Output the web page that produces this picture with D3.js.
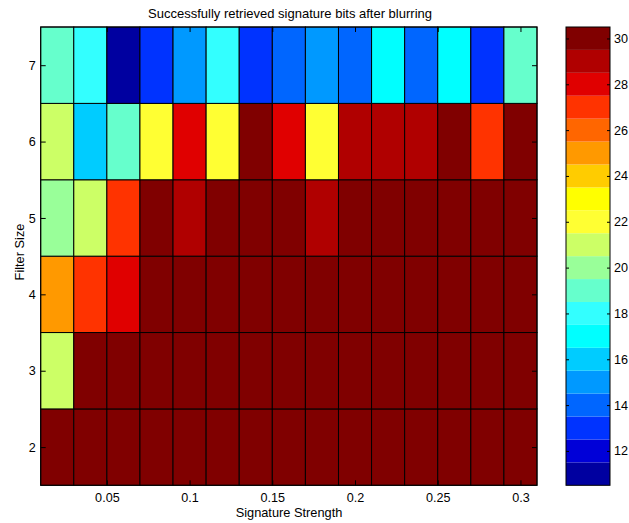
<!DOCTYPE html>
<html>
<head>
<meta charset="utf-8">
<script src="https://cdn.jsdelivr.net/npm/d3@7"></script>
<style>
  html, body { margin: 0; padding: 0; background: #fff; }
  svg text { font-family: "Liberation Sans", Arial, Helvetica, sans-serif; fill: #000; }
</style>
</head>
<body>
<svg id="chart" width="629" height="523"></svg>
<script>
// ---- data ----
const strengths = [0.02, 0.04, 0.06, 0.08, 0.10, 0.12, 0.14, 0.16, 0.18, 0.20, 0.22, 0.24, 0.26, 0.28, 0.30];
const filterSizes = [2, 3, 4, 5, 6, 7];
const bitsFilter2 = [30, 30, 30, 30, 30, 30, 30, 30, 30, 30, 30, 30, 30, 30, 30];
const bitsFilter3 = [21, 30, 30, 30, 30, 30, 30, 30, 30, 30, 30, 30, 30, 30, 30];
const bitsFilter4 = [25, 27, 28, 30, 30, 30, 30, 30, 30, 30, 30, 30, 30, 30, 30];
const bitsFilter5 = [20, 21, 27, 30, 29, 30, 30, 30, 29, 30, 30, 30, 30, 30, 30];
const bitsFilter6 = [21, 16, 19, 22, 28, 22, 30, 28, 22, 29, 29, 29, 30, 27, 30];
const bitsFilter7 = [19, 18, 11, 13, 15, 18, 13, 14, 15, 14, 17, 14, 17, 13, 19];
const xTicks = [0.05, 0.1, 0.15, 0.2, 0.25, 0.3];
const xTickLabels = ["0.05", "0.1", "0.15", "0.2", "0.25", "0.3"];
const yTicks = [2, 3, 4, 5, 6, 7];
const colorbarTicks = [12, 14, 16, 18, 20, 22, 24, 26, 28, 30];
const colorLevels = [11, 12, 13, 14, 15, 16, 17, 18, 19, 20, 21, 22, 23, 24, 25, 26, 27, 28, 29, 30];
const levelColors = ["#0000a0", "#0000d8", "#0033ff", "#0066ff", "#0099ff", "#00ccff", "#00ffff", "#33ffff",
                     "#66ffcc", "#99ff99", "#ccff66", "#ffff33", "#ffff00", "#ffcc00", "#ff9900", "#ff6600",
                     "#ff3300", "#e00000", "#b00000", "#800000"];
const titleText = "Successfully retrieved signature bits after blurring";
const xLabelText = "Signature Strength";
const yLabelText = "Filter Size";

const rows = [bitsFilter2, bitsFilter3, bitsFilter4, bitsFilter5, bitsFilter6, bitsFilter7];
const cells = [];
rows.forEach((r, i) => r.forEach((v, j) => cells.push({ fs: filterSizes[i], s: strengths[j], v })));

// ---- layout ----
const svg = d3.select("#chart");
const plot = { left: 40.7, right: 537, top: 27, bottom: 485.3 };
const cb = { left: 566, right: 610, top: 27, bottom: 485.3 };

const x = d3.scaleLinear().domain([0.01, 0.31]).range([plot.left, plot.right]);
const y = d3.scaleLinear().domain([1.5, 7.5]).range([plot.bottom, plot.top]);
const color = d3.scaleOrdinal().domain(colorLevels).range(levelColors);
const dx = 0.01, dy = 0.5;

// cells
svg.append("g").selectAll("rect").data(cells).join("rect")
  .attr("x", d => x(d.s - dx))
  .attr("y", d => y(d.fs + dy))
  .attr("width", d => x(d.s + dx) - x(d.s - dx))
  .attr("height", d => y(d.fs - dy) - y(d.fs + dy))
  .attr("fill", d => color(d.v))
  .attr("stroke", "#000")
  .attr("stroke-width", 1);

// axes
const fs = 12.6;
const xb = svg.append("g").attr("transform", `translate(0,${plot.bottom})`)
  .call(d3.axisBottom(x).tickValues(xTicks).tickFormat((d, i) => xTickLabels[i]).tickSize(-5).tickSizeOuter(0).tickPadding(8));
const xt = svg.append("g").attr("transform", `translate(0,${plot.top})`)
  .call(d3.axisTop(x).tickValues(xTicks).tickFormat("").tickSize(-5).tickSizeOuter(0));
const yl = svg.append("g").attr("transform", `translate(${plot.left},0)`)
  .call(d3.axisLeft(y).tickValues(yTicks).tickFormat(d3.format("d")).tickSize(-5).tickSizeOuter(0).tickPadding(5));
const yr = svg.append("g").attr("transform", `translate(${plot.right},0)`)
  .call(d3.axisRight(y).tickValues(yTicks).tickFormat("").tickSize(-5).tickSizeOuter(0));
[xb, xt, yl, yr].forEach(g => {
  g.select(".domain").remove();
  g.selectAll("line").attr("stroke", "#000");
  g.selectAll("text").attr("font-size", fs).attr("font-family", null);
});
svg.append("rect").attr("x", plot.left).attr("y", plot.top)
  .attr("width", plot.right - plot.left).attr("height", plot.bottom - plot.top)
  .attr("fill", "none").attr("stroke", "#000").attr("stroke-width", 1);

// labels
svg.append("text").attr("x", 290).attr("y", 18).attr("text-anchor", "middle").attr("font-size", 13).text(titleText);
svg.append("text").attr("x", 289).attr("y", 517).attr("text-anchor", "middle").attr("font-size", 12.8).text(xLabelText);
svg.append("text").attr("transform", "translate(24,252) rotate(-90)").attr("text-anchor", "middle").attr("font-size", 12.8).text(yLabelText);

// colorbar
const cy = d3.scaleLinear().domain([10.5, 30.5]).range([cb.bottom, cb.top]);
svg.append("g").selectAll("rect").data(colorLevels).join("rect")
  .attr("x", cb.left).attr("width", cb.right - cb.left)
  .attr("y", d => cy(d + 0.5)).attr("height", d => cy(d - 0.5) - cy(d + 0.5))
  .attr("fill", d => color(d));
const cr = svg.append("g").attr("transform", `translate(${cb.right},0)`)
  .call(d3.axisRight(cy).tickValues(colorbarTicks).tickSize(-3).tickSizeOuter(0).tickPadding(4));
const cl = svg.append("g").attr("transform", `translate(${cb.left},0)`)
  .call(d3.axisLeft(cy).tickValues(colorbarTicks).tickFormat("").tickSize(-3).tickSizeOuter(0));
[cr, cl].forEach(g => {
  g.select(".domain").remove();
  g.selectAll("line").attr("stroke", "#000");
  g.selectAll("text").attr("font-size", fs).attr("font-family", null);
});
svg.append("rect").attr("x", cb.left).attr("y", cb.top)
  .attr("width", cb.right - cb.left).attr("height", cb.bottom - cb.top)
  .attr("fill", "none").attr("stroke", "#000").attr("stroke-width", 1);
</script>
</body>
</html>
